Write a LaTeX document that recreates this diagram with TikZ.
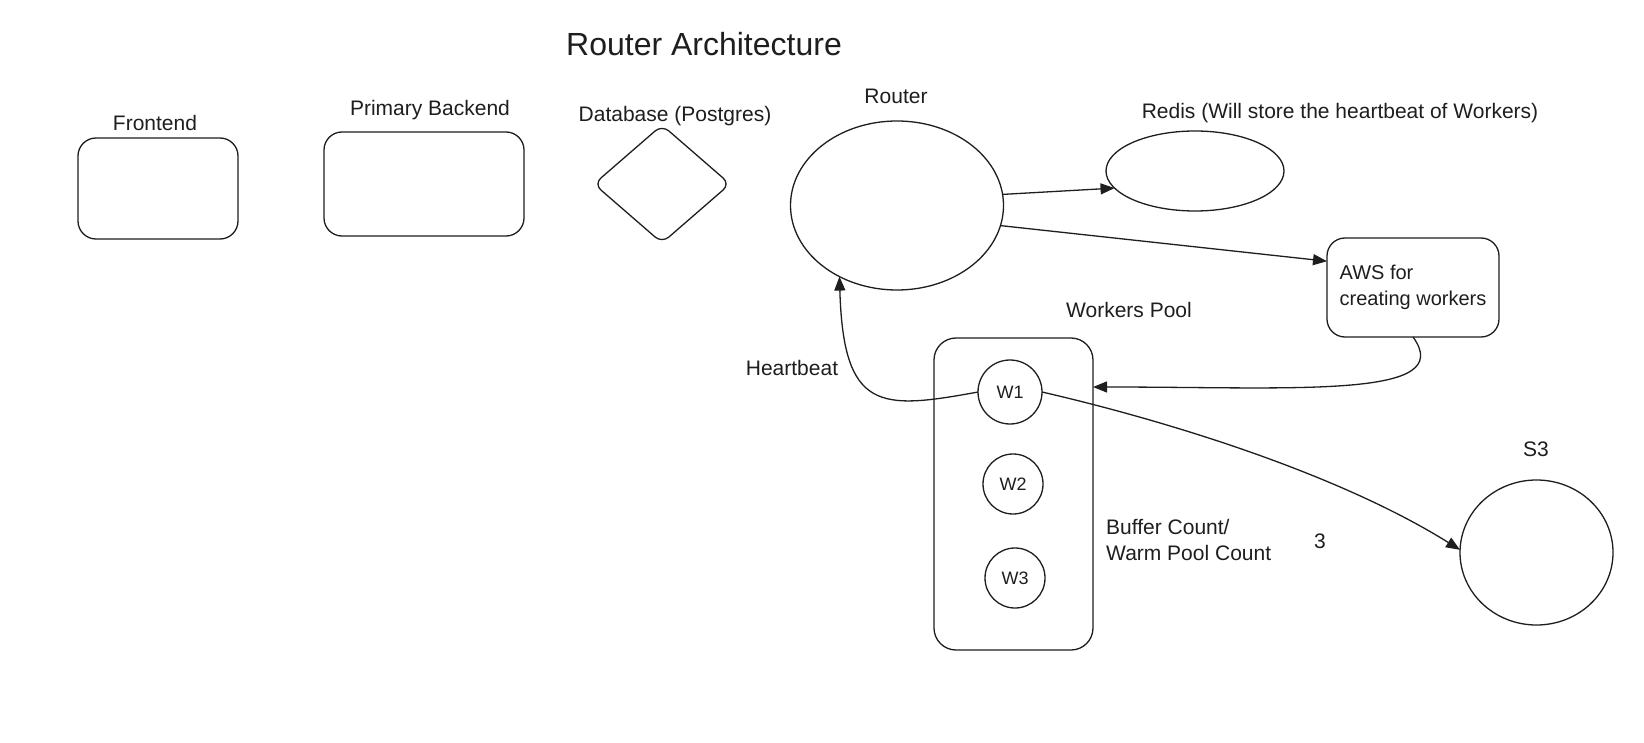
\documentclass[tikz,border=0pt]{standalone}
\usepackage{fontspec}
\setmainfont{Liberation Sans}
\usetikzlibrary{shapes.geometric,arrows.meta}
\definecolor{ink}{HTML}{1E1E1E}
\begin{document}
\begin{tikzpicture}[x=1pt,y=-1pt,
  shp/.style={draw=ink, line width=1.3pt, inner sep=0pt, outer sep=0pt},
  rbox/.style={shp, rectangle, rounded corners=18pt},
  ell/.style={shp, ellipse},
  lbl/.style={font=\fontsize{21}{26}\selectfont, text=ink, inner sep=0pt},
  wlbl/.style={font=\fontsize{18}{22}\selectfont, text=ink},
  arr/.style={draw=ink, line width=1.3pt, -{Triangle[length=14pt,width=11pt]}}]
\useasboundingbox (0,0) rectangle (1644,743);
\fill[white] (0,0) rectangle (1644,743);

% title
\node[lbl, font=\fontsize{32}{38}\selectfont, anchor=west] (title) at (566,44) {Router Architecture};

% shapes
\node[rbox, minimum width=160, minimum height=101] (frontend) at (158,188.5) {};
\node[rbox, minimum width=200, minimum height=104] (backend) at (424,184) {};
\node[shp, diamond, rounded corners=9pt, minimum width=136, minimum height=118] (db) at (662,184) {};
\node[ell, minimum width=213, minimum height=169] (router) at (897,205.5) {};
\node[ell, minimum width=178, minimum height=80] (redis) at (1195,171) {};
\node[rbox, minimum width=172, minimum height=99, align=left, inner xsep=8pt,
      font=\fontsize{20}{26}\selectfont, text=ink] (aws) at (1413,287.5) {AWS for\\creating workers};
\node[rbox, rounded corners=22pt, minimum width=159, minimum height=312] (pool) at (1013.5,494) {};
\node[shp, circle, minimum size=64, wlbl] (w1) at (1010,392) {W1};
\node[shp, circle, minimum size=60, wlbl] (w2) at (1013,484) {W2};
\node[shp, circle, minimum size=60, wlbl] (w3) at (1015,578) {W3};
\node[ell, minimum width=153, minimum height=145] (s3) at (1536.5,552.5) {};

% labels
\node[lbl] (lfrontend) at (155,123) {Frontend};
\node[lbl] (lbackend) at (430,110) {Primary Backend};
\node[lbl] (ldb) at (675,116) {Database (Postgres)};
\node[lbl] (lrouter) at (896,96) {Router};
\node[lbl] (lredis) at (1340,113) {Redis (Will store the heartbeat of Workers)};
\node[lbl] (lpool) at (1129,310) {Workers Pool};
\node[lbl] (lheart) at (792,368) {Heartbeat};
\node[lbl, anchor=west, align=left] (lbuffer) at (1106,540) {Buffer Count/\\Warm Pool Count};
\node[lbl] (lthree) at (1320,541) {3};
\node[lbl] (ls3) at (1536,449) {S3};

% connectors
\draw[arr] (router.6) -- (redis.192);
\draw[arr] (router.-11) -- (aws.163);
\draw[arr] (aws.south) .. controls +(45,62) and +(204,0) .. ([yshift=5pt]pool.east |- w1.center);
\draw[arr] (w1.west) .. controls +(-98,18) and +(4,135) .. (router.231.5);
\draw[arr] (w1.east) .. controls +(130,30) and +(-120,-75) .. (s3.178);
\end{tikzpicture}
\end{document}
